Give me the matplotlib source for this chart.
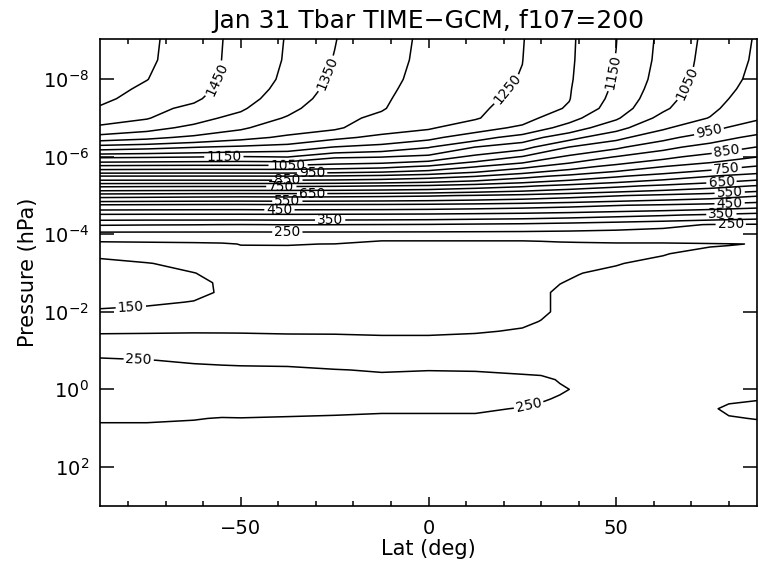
import numpy as np
import matplotlib
matplotlib.use("Agg")
import matplotlib.pyplot as plt
from matplotlib.ticker import MultipleLocator, NullLocator, FixedLocator

plt.rcParams['font.family'] = ['DejaVu Sans']

# ---------------- data ----------------
# Upper atmosphere (thermosphere) grid: latitude columns and log10(pressure/hPa) rows
lats_thermo = [-87.5, -75, -62.5, -50, -37.5, -25, -12.5, 0, 12.5, 25, 37.5, 50, 62.5, 75, 87.5]
logp_thermo = [-9.1, -8.5, -8.0, -7.75, -7.5, -7.25, -7.0, -6.75, -6.5, -6.25, -6.0, -5.75,
               -5.5, -5.25, -5.0, -4.75, -4.5, -4.25, -4.0]
# temperature profiles (K), one list per latitude, top -> bottom
t_thermo_cols = [
    [1545, 1540, 1531, 1523, 1513, 1493, 1470, 1440, 1379, 1277, 1159, 1036, 898, 760, 621, 492, 392, 304, 229],
    [1510, 1508, 1501, 1489, 1476, 1464, 1453, 1417, 1363, 1266, 1156, 1033, 898, 758, 618, 490, 391, 302, 229],
    [1475, 1473, 1469, 1464, 1457, 1439, 1416, 1388, 1339, 1252, 1152, 1031, 898, 757, 615, 488, 391, 301, 229],
    [1435, 1434, 1430, 1425, 1418, 1406, 1385, 1357, 1315, 1240, 1147, 1032, 898, 757, 613, 487, 391, 299, 229],
    [1397, 1395, 1390, 1384, 1375, 1362, 1345, 1321, 1291, 1228, 1152, 1032, 899, 757, 614, 489, 392, 301, 229],
    [1352, 1347, 1340, 1334, 1328, 1320, 1312, 1308, 1260, 1198, 1107, 1025, 895, 755, 613, 488, 391, 300.5, 229],
    [1318, 1316, 1312, 1309, 1306, 1303, 1291, 1268, 1239, 1180, 1102, 1015, 887, 750, 610, 487, 390, 299, 229],
    [1291, 1289, 1286, 1283, 1279, 1274, 1267, 1256, 1213, 1153, 1086, 993, 872, 743, 605, 484, 388, 297, 229],
    [1272, 1270, 1267, 1265, 1262, 1259, 1254, 1221, 1171, 1099, 1036, 953, 852, 726, 596, 479, 384, 293, 229],
    [1252, 1250.5, 1247, 1243, 1237, 1229, 1218, 1190, 1127, 1067, 997, 914, 817, 708, 585, 472, 380, 289, 229],
    [1208, 1207, 1205, 1203, 1201.5, 1195, 1166, 1128, 1066, 999, 939, 872, 786, 684, 569, 463, 373, 281, 229],
    [1151, 1148, 1144, 1140, 1134, 1124, 1106, 1066, 1014, 959, 898, 834, 756, 661, 553, 452, 364, 271, 229],
    [1088, 1085, 1079, 1073, 1066, 1057, 1034, 1007, 964, 914, 863, 801, 727, 640, 538, 443, 355, 260, 229],
    [1037, 1033, 1027, 1022, 1016, 1009, 998, 963, 923, 879, 831, 773, 701, 619, 525, 433, 344, 248, 228],
    [996, 993, 988, 983, 976, 967, 956, 924, 887, 849, 801, 747, 677, 597, 504, 421, 331, 245, 229],
]

# Middle / lower atmosphere grid
lats_lower = [-87.5, -75, -62.5, -55, -50, -37.5, -25, -12.5, 0, 12.5, 25, 30, 35, 40, 50, 62.5, 75, 80, 87.5]
logp_lower = [-4.0, -3.75, -3.5, -3.25, -3.0, -2.75, -2.5, -2.25, -2.0, -1.75, -1.5, -1.25,
              -1.0, -0.75, -0.5, -0.25, 0.0, 0.25, 0.5, 0.75, 1.0, 1.5, 2.0, 3.0]
t_lower_cols = [
    [225, 190, 156, 142, 135, 132, 134, 142, 155, 178, 196, 215, 238, 255, 268, 274, 276, 274, 268, 256, 240, 225, 218, 215],
    [226, 192, 170, 148, 140, 137, 139, 146, 158, 180, 197, 214, 235, 251, 265, 272, 275, 273, 267, 256, 240, 225, 218, 215],
    [227, 194, 178, 163, 149, 144, 145, 151, 165, 182, 198, 213, 232, 246, 260, 270, 274, 272, 265, 252, 238, 224, 218, 215],
    [228, 196, 183, 172, 162, 153, 152, 159, 170, 184, 198, 212, 230, 244, 258, 268, 273, 271, 264, 248, 237, 224, 218, 215],
    [229, 201, 190, 180, 171, 165, 163, 166, 174, 186, 198, 211, 229, 243, 257, 267, 272, 270, 262, 249, 236, 224, 218, 215],
    [230, 201, 192, 185, 178, 173, 171, 173, 179, 188, 197, 210, 228, 242, 256, 266, 271, 269, 260, 247, 235, 224, 218, 215],
    [230, 199.5, 194, 188, 183, 179, 177, 178, 183, 190, 197, 209, 226, 240, 251, 263, 269, 267, 258, 245, 234, 224, 218, 215],
    [228, 182, 190, 188, 185, 182, 181, 182, 186, 191, 196, 207, 222, 236, 248, 258, 265, 263, 255, 243, 233, 224, 218, 215],
    [228, 182, 189, 188, 186, 184, 183, 184, 187, 191, 196, 207, 222, 237, 249.5, 259, 266, 264, 255, 243, 233, 224, 218, 215],
    [228, 182, 189, 189, 188, 187, 186, 187, 190, 193, 198, 209, 223, 237, 249, 258, 265, 263, 255, 243, 233, 224, 218, 215],
    [228, 182, 190, 191, 191, 191, 191, 192, 194, 197, 202, 212, 225, 237, 247, 255, 259, 258, 248, 240, 232, 224, 218, 215],
    [229, 185, 192, 193, 194, 195, 196, 197, 198, 200.5, 205, 214, 226, 238, 247, 253, 256, 252, 245, 239, 232, 224, 218, 215],
    [229, 190, 194, 196, 198, 199.5, 204, 203, 202, 206, 210, 217, 227, 237, 244, 249, 252, 248, 243, 238, 232, 224, 218, 215],
    [230, 192, 196, 198, 199.5, 203, 206, 207, 208, 210, 213, 219, 227, 236, 242, 246, 248, 246, 242, 237, 232, 224, 218, 215],
    [231, 195, 197, 199, 204, 208, 210, 211, 212, 214, 216, 220, 226, 233, 238, 241, 243, 242, 239, 235, 231, 224, 218, 215],
    [231, 195, 199, 205, 209, 212, 213, 214, 215, 216, 218, 221, 225, 230, 235, 238, 240, 241, 240, 236, 231, 224, 218, 215],
    [228, 198, 206, 210, 213, 215, 216, 217, 218, 219, 220, 222, 226, 230, 234, 238, 242, 245, 247, 240, 232, 224, 218, 215],
    [228, 199, 207, 211, 214, 216, 217, 218, 219, 220, 221, 223, 227, 231, 235, 239, 243, 247, 254, 248, 237, 225, 218, 215],
    [229, 200.8, 208, 212, 214, 216, 218, 219, 220, 221, 222, 224, 228, 232, 236, 240, 244, 249, 257, 251, 240, 226, 218, 215],
]

# contour levels every 50 K; every other one (ending in 50) is labelled
labeled_thermo = list(range(250, 1451, 100))
unlabeled_thermo = list(range(300, 1501, 100))
labeled_lower = [150, 250]
unlabeled_lower = [200]

title = "Jan 31 Tbar TIME\u2212GCM, f107=200"
xlabel = "Lat (deg)"
ylabel = "Pressure (hPa)"
yticks = [1e-8, 1e-6, 1e-4, 1e-2, 1e0, 1e2]
xticks = [-50, 0, 50]

# ---------------- plot ----------------
fig = plt.figure(figsize=(7.59, 5.70), dpi=100)
ax = fig.add_axes([100/759, 1-506/570, 657/759, 467/570])

T_th = np.array(t_thermo_cols).T
P_th = 10.0 ** np.array(logp_thermo)
T_lo = np.array(t_lower_cols).T
P_lo = 10.0 ** np.array(logp_lower)

lw = 1.1
ax.contour(lats_thermo, P_th, T_th, levels=unlabeled_thermo, colors='k', linewidths=lw)
cs1 = ax.contour(lats_thermo, P_th, T_th, levels=labeled_thermo, colors='k', linewidths=lw)
ax.contour(lats_lower, P_lo, T_lo, levels=unlabeled_lower, colors='k', linewidths=lw)
cs2 = ax.contour(lats_lower, P_lo, T_lo, levels=labeled_lower, colors='k', linewidths=lw)

ax.set_yscale('log')
ax.set_xlim(-87.5, 87.5)
ax.set_ylim(10 ** 3.01, 10 ** -9.04)

lab_th = [(-56.3, 1e-8), (-25.7, 10**-8.11), (21.5, 10**-7.72), (49.5, 10**-8.19), (69, 10**-7.9),
          (74.9, 10**-6.56), (79.4, 10**-6.17), (79.4, 10**-5.71), (78, 10**-5.40), (80.2, 10**-5.12),
          (80.2, 10**-4.83), (78, 10**-4.55), (80.5, 10**-4.30),
          (-54.5, 10**-5.92), (-37.4, 10**-5.78), (-31, 10**-5.58), (-37.6, 10**-5.40), (-39.2, 10**-5.25),
          (-31, 10**-5.06), (-37.6, 10**-4.88), (-39.7, 10**-4.68), (-26.2, 10**-4.44), (-37.6, 10**-4.11)]
ax.clabel(cs1, fmt='%d', fontsize=10, inline=True, inline_spacing=2, manual=lab_th)
lab_lo = [(-79.3, 10**-2.15), (-77.2, 10**-0.75), (26.8, 10**0.46)]
ax.clabel(cs2, fmt='%d', fontsize=10, inline=True, inline_spacing=2, manual=lab_lo)

ax.yaxis.set_major_locator(FixedLocator(yticks))
ax.yaxis.set_minor_locator(NullLocator())
ax.xaxis.set_major_locator(FixedLocator(xticks))
ax.xaxis.set_minor_locator(MultipleLocator(10))

ax.tick_params(which='both', direction='in', top=True, right=True, width=1.1, labelsize=14)
ax.tick_params(axis='y', which='major', length=10, pad=8)
ax.tick_params(axis='x', which='major', length=6.5, pad=9)
ax.tick_params(axis='x', which='minor', length=3.6)
for s in ax.spines.values():
    s.set_linewidth(1.2)

ax.set_xlabel(xlabel, fontsize=15, labelpad=1)
ax.set_ylabel(ylabel, fontsize=15, labelpad=3)
ax.set_title(title, fontsize=18, pad=8)

fig.savefig("out.png", dpi=100)
